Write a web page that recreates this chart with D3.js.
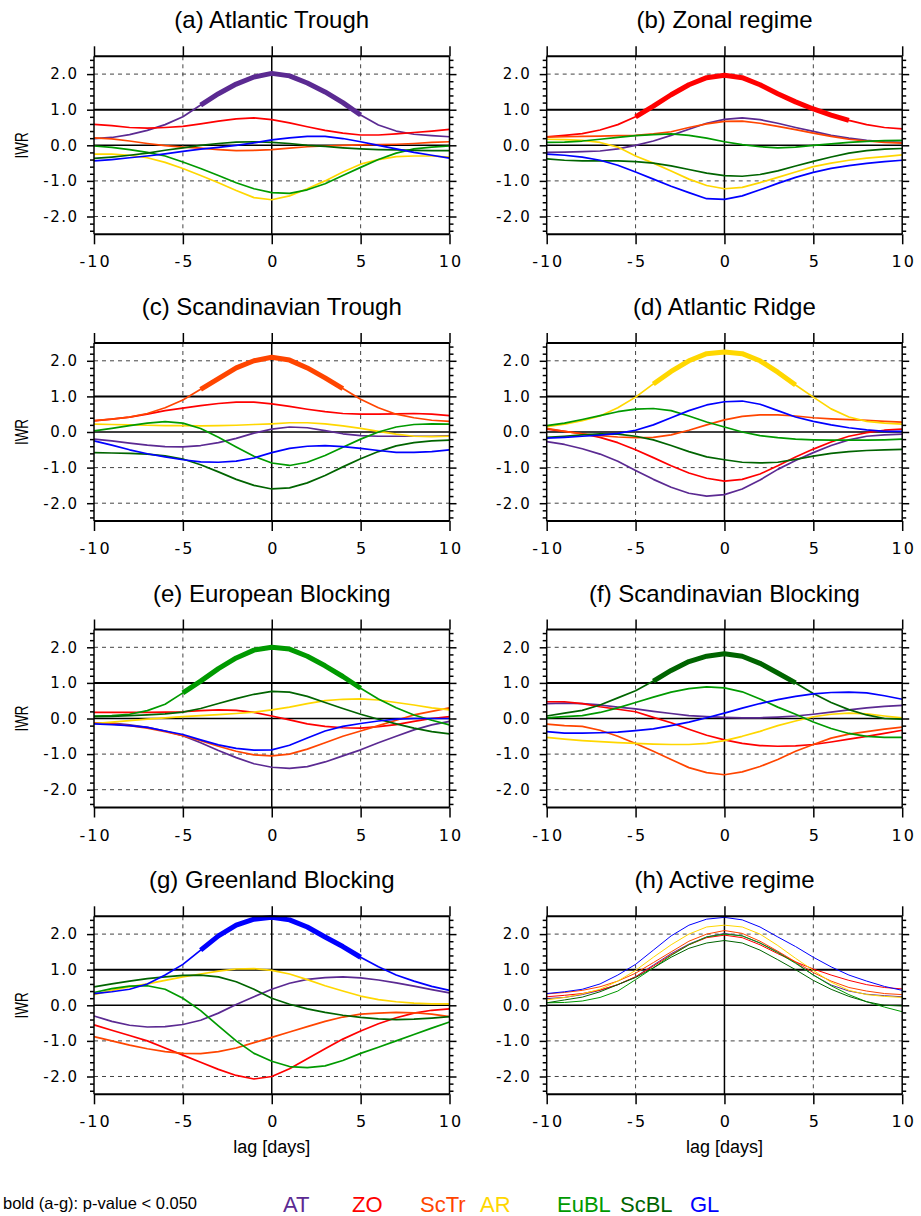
<!DOCTYPE html>
<html>
<head>
<meta charset="utf-8">
<script src="https://cdn.jsdelivr.net/npm/d3@7"></script>
<style>
  body { margin: 0; background: #fff; }
  text { font-family: "Liberation Sans", Arial, Helvetica, sans-serif; fill: #000; }
</style>
</head>
<body>
<div id="chart"></div>
<script>
// lag axis (days) and regimes
const days = d3.range(-10, 11);
const regimes = ["AT", "ZO", "ScTr", "AR", "EuBL", "ScBL", "GL"];
const regimeColors = ["#5b2a92", "#ff0000", "#ff4500", "#ffd700", "#009a00", "#006400", "#0000ff"];
const panelTitles = [
  "(a) Atlantic Trough", "(b) Zonal regime", "(c) Scandinavian Trough", "(d) Atlantic Ridge",
  "(e) European Blocking", "(f) Scandinavian Blocking", "(g) Greenland Blocking", "(h) Active regime"
];
const xTicks = [-10, -5, 0, 5, 10];
const yTicks = [-2, -1, 0, 1, 2];
// bold (significant) part of each regime's own curve, in days
const boldFrom = [-4, -5, -4, -4, -5, -4, -4];
const boldTo = [5, 7, 4, 4, 5, 4, 5];

// IWR composites, one row per regime (AT, ZO, ScTr, AR, EuBL, ScBL, GL), lag -10..10
const iwrAT = [
  [0.19,0.22,0.3,0.42,0.58,0.8,1.13,1.45,1.72,1.92,2.02,1.95,1.75,1.5,1.2,0.85,0.57,0.4,0.31,0.27,0.24],
  [0.59,0.55,0.5,0.48,0.5,0.53,0.6,0.68,0.74,0.77,0.72,0.63,0.52,0.42,0.34,0.29,0.29,0.32,0.36,0.4,0.45],
  [0.21,0.18,0.12,0.05,-0.01,-0.05,-0.08,-0.12,-0.15,-0.14,-0.12,-0.08,-0.04,-0.02,0.0,0.01,0.02,0.03,0.05,0.08,0.1],
  [-0.25,-0.25,-0.28,-0.35,-0.48,-0.65,-0.85,-1.05,-1.27,-1.47,-1.53,-1.42,-1.22,-1.0,-0.75,-0.53,-0.4,-0.32,-0.3,-0.3,-0.33],
  [-0.02,-0.06,-0.12,-0.2,-0.3,-0.47,-0.65,-0.85,-1.05,-1.22,-1.33,-1.35,-1.25,-1.08,-0.85,-0.62,-0.4,-0.22,-0.1,-0.05,-0.02],
  [-0.37,-0.33,-0.28,-0.22,-0.14,-0.07,0.0,0.05,0.09,0.1,0.08,0.05,0.0,-0.03,-0.07,-0.1,-0.12,-0.13,-0.14,-0.15,-0.15],
  [-0.44,-0.4,-0.35,-0.3,-0.24,-0.17,-0.11,-0.06,0.0,0.07,0.15,0.21,0.25,0.25,0.19,0.1,0.0,-0.1,-0.2,-0.28,-0.36]
];
const iwrZO = [
  [-0.2,-0.19,-0.18,-0.16,-0.1,0.0,0.12,0.28,0.45,0.62,0.73,0.77,0.72,0.62,0.5,0.39,0.28,0.2,0.14,0.1,0.08],
  [0.24,0.28,0.33,0.43,0.58,0.8,1.1,1.42,1.7,1.9,1.97,1.9,1.7,1.45,1.22,1.02,0.85,0.7,0.58,0.5,0.46],
  [0.23,0.24,0.25,0.26,0.27,0.28,0.32,0.38,0.5,0.6,0.67,0.68,0.62,0.53,0.44,0.34,0.25,0.17,0.12,0.08,0.06],
  [0.17,0.16,0.14,0.08,-0.05,-0.3,-0.5,-0.72,-0.95,-1.13,-1.22,-1.18,-1.05,-0.9,-0.75,-0.6,-0.5,-0.42,-0.36,-0.32,-0.27],
  [0.08,0.09,0.12,0.17,0.22,0.27,0.3,0.32,0.28,0.2,0.1,0.02,-0.04,-0.07,-0.05,0.0,0.04,0.08,0.11,0.13,0.14],
  [-0.38,-0.42,-0.44,-0.44,-0.44,-0.46,-0.5,-0.58,-0.68,-0.78,-0.85,-0.87,-0.82,-0.72,-0.58,-0.45,-0.33,-0.22,-0.15,-0.11,-0.09],
  [-0.25,-0.28,-0.33,-0.42,-0.56,-0.75,-0.95,-1.15,-1.33,-1.5,-1.52,-1.42,-1.25,-1.07,-0.9,-0.76,-0.65,-0.57,-0.51,-0.46,-0.42]
];
const iwrScTr = [
  [-0.2,-0.25,-0.31,-0.37,-0.41,-0.42,-0.38,-0.3,-0.18,-0.03,0.08,0.14,0.12,0.04,-0.05,-0.1,-0.12,-0.12,-0.12,-0.12,-0.11],
  [0.31,0.36,0.42,0.5,0.6,0.67,0.74,0.8,0.84,0.84,0.79,0.72,0.64,0.57,0.52,0.5,0.5,0.51,0.52,0.5,0.46],
  [0.32,0.36,0.42,0.52,0.68,0.9,1.2,1.5,1.8,2.0,2.1,2.02,1.8,1.52,1.22,0.92,0.68,0.5,0.4,0.33,0.3],
  [0.22,0.21,0.2,0.19,0.18,0.18,0.17,0.18,0.19,0.21,0.23,0.26,0.26,0.23,0.17,0.1,0.02,-0.06,-0.12,-0.13,-0.12],
  [0.03,0.1,0.18,0.25,0.29,0.25,0.1,-0.15,-0.42,-0.68,-0.87,-0.94,-0.85,-0.66,-0.43,-0.2,0.0,0.14,0.21,0.23,0.22],
  [-0.58,-0.59,-0.6,-0.62,-0.67,-0.76,-0.92,-1.12,-1.33,-1.5,-1.6,-1.57,-1.43,-1.22,-0.98,-0.75,-0.55,-0.39,-0.3,-0.25,-0.23],
  [-0.25,-0.37,-0.5,-0.61,-0.7,-0.78,-0.84,-0.85,-0.82,-0.73,-0.58,-0.46,-0.4,-0.38,-0.41,-0.46,-0.52,-0.57,-0.57,-0.55,-0.5]
];
const iwrAR = [
  [-0.27,-0.35,-0.47,-0.62,-0.82,-1.08,-1.33,-1.55,-1.72,-1.8,-1.76,-1.6,-1.35,-1.05,-0.8,-0.58,-0.38,-0.22,-0.12,-0.08,-0.06],
  [0.08,0.02,-0.05,-0.15,-0.3,-0.5,-0.72,-0.95,-1.15,-1.3,-1.38,-1.33,-1.18,-0.95,-0.7,-0.48,-0.28,-0.12,-0.02,0.05,0.08],
  [0.1,0.02,-0.05,-0.1,-0.14,-0.16,-0.15,-0.08,0.05,0.2,0.34,0.44,0.48,0.48,0.45,0.4,0.37,0.35,0.33,0.3,0.28],
  [0.15,0.22,0.32,0.45,0.68,0.98,1.35,1.7,2.0,2.2,2.25,2.2,2.0,1.68,1.32,0.98,0.65,0.42,0.3,0.25,0.22],
  [0.18,0.25,0.35,0.46,0.57,0.64,0.66,0.6,0.45,0.28,0.14,0.0,-0.1,-0.16,-0.2,-0.22,-0.23,-0.23,-0.23,-0.22,-0.2],
  [-0.15,-0.12,-0.08,-0.05,-0.06,-0.12,-0.22,-0.38,-0.55,-0.7,-0.78,-0.85,-0.87,-0.85,-0.77,-0.68,-0.6,-0.55,-0.52,-0.5,-0.49],
  [-0.17,-0.15,-0.12,-0.09,-0.04,0.05,0.2,0.4,0.6,0.76,0.85,0.87,0.78,0.6,0.42,0.3,0.2,0.12,0.06,0.02,0.02]
];
const iwrEuBL = [
  [-0.12,-0.13,-0.18,-0.25,-0.35,-0.48,-0.68,-0.9,-1.1,-1.27,-1.37,-1.4,-1.35,-1.22,-1.05,-0.88,-0.68,-0.5,-0.32,-0.18,-0.08],
  [0.17,0.17,0.17,0.17,0.18,0.19,0.22,0.24,0.23,0.17,0.07,-0.04,-0.15,-0.22,-0.26,-0.27,-0.23,-0.17,-0.08,0.0,0.05],
  [-0.12,-0.15,-0.2,-0.27,-0.37,-0.48,-0.62,-0.78,-0.92,-1.02,-1.05,-1.0,-0.86,-0.68,-0.5,-0.35,-0.2,-0.05,0.1,0.2,0.3],
  [-0.14,-0.1,-0.06,-0.02,0.02,0.05,0.08,0.11,0.14,0.18,0.24,0.32,0.42,0.5,0.54,0.55,0.52,0.45,0.38,0.3,0.24],
  [0.07,0.08,0.12,0.22,0.4,0.72,1.05,1.4,1.7,1.92,2.0,1.95,1.75,1.48,1.18,0.85,0.55,0.3,0.1,-0.05,-0.18],
  [0.05,0.06,0.08,0.1,0.13,0.18,0.28,0.42,0.56,0.68,0.76,0.74,0.62,0.45,0.28,0.12,-0.02,-0.15,-0.27,-0.37,-0.43],
  [-0.15,-0.17,-0.2,-0.25,-0.35,-0.45,-0.6,-0.74,-0.84,-0.89,-0.88,-0.75,-0.55,-0.35,-0.22,-0.14,-0.07,-0.02,0.0,0.0,0.0]
];
const iwrScBL = [
  [0.42,0.43,0.42,0.38,0.32,0.27,0.2,0.14,0.08,0.05,0.03,0.02,0.02,0.04,0.07,0.12,0.18,0.24,0.3,0.34,0.37],
  [0.47,0.47,0.42,0.33,0.26,0.19,0.03,-0.12,-0.3,-0.47,-0.6,-0.7,-0.76,-0.78,-0.77,-0.73,-0.66,-0.58,-0.5,-0.42,-0.33],
  [-0.16,-0.2,-0.22,-0.33,-0.5,-0.7,-0.92,-1.15,-1.38,-1.52,-1.58,-1.5,-1.35,-1.15,-0.92,-0.73,-0.55,-0.44,-0.37,-0.3,-0.24],
  [-0.53,-0.58,-0.62,-0.65,-0.68,-0.7,-0.72,-0.73,-0.73,-0.7,-0.62,-0.5,-0.36,-0.2,-0.07,0.05,0.12,0.15,0.13,0.07,0.02],
  [0.02,0.05,0.08,0.17,0.3,0.45,0.6,0.74,0.84,0.89,0.86,0.75,0.55,0.32,0.12,-0.1,-0.28,-0.42,-0.5,-0.53,-0.53],
  [0.07,0.15,0.23,0.38,0.58,0.78,1.05,1.35,1.6,1.75,1.82,1.75,1.55,1.28,1.0,0.7,0.45,0.25,0.1,0.0,-0.02],
  [-0.37,-0.41,-0.41,-0.4,-0.38,-0.34,-0.29,-0.2,-0.1,0.02,0.15,0.29,0.42,0.53,0.62,0.69,0.73,0.74,0.72,0.64,0.54]
];
const iwrGL = [
  [-0.3,-0.45,-0.56,-0.61,-0.6,-0.54,-0.42,-0.22,0.02,0.24,0.45,0.62,0.73,0.78,0.8,0.77,0.71,0.63,0.54,0.44,0.35],
  [-0.55,-0.7,-0.85,-1.0,-1.2,-1.4,-1.6,-1.8,-1.97,-2.07,-2.0,-1.78,-1.5,-1.22,-0.95,-0.72,-0.52,-0.35,-0.22,-0.14,-0.1],
  [-0.88,-1.0,-1.12,-1.22,-1.3,-1.35,-1.36,-1.3,-1.2,-1.05,-0.9,-0.75,-0.6,-0.45,-0.33,-0.25,-0.22,-0.2,-0.21,-0.25,-0.32],
  [0.3,0.42,0.52,0.6,0.7,0.8,0.88,0.96,1.02,1.03,0.98,0.88,0.72,0.55,0.4,0.26,0.16,0.1,0.06,0.04,0.04],
  [0.36,0.47,0.54,0.55,0.45,0.2,-0.15,-0.58,-1.0,-1.35,-1.57,-1.72,-1.75,-1.7,-1.55,-1.35,-1.18,-1.0,-0.82,-0.64,-0.47],
  [0.52,0.6,0.68,0.75,0.8,0.84,0.85,0.8,0.66,0.45,0.2,0.03,-0.1,-0.2,-0.28,-0.34,-0.38,-0.4,-0.39,-0.36,-0.32],
  [0.33,0.38,0.45,0.6,0.85,1.15,1.55,1.95,2.25,2.42,2.47,2.4,2.2,1.92,1.65,1.35,1.08,0.85,0.68,0.53,0.42]
];

const panelData = [iwrAT, iwrZO, iwrScTr, iwrAR, iwrEuBL, iwrScBL, iwrGL];
// (h) active regime: each regime's own composite
const iwrActive = panelData.map((p, k) => p[k]);

const width = 921, height = 1216;
const colX = [94, 546.7];
const rowY = [56.3, 343, 629.5, 916.3];
const plotW = 355.5, plotH = 178;
const tickFont = "'DejaVu Sans', 'Liberation Sans', sans-serif";

const svg = d3.select("#chart").append("svg")
  .attr("width", width).attr("height", height)
  .attr("viewBox", "0 0 " + width + " " + height);

const x = d3.scaleLinear().domain([-10, 10]).range([0, plotW]);
const y = d3.scaleLinear().domain([-2.5, 2.5]).range([plotH, 0]);
const minorY = d3.range(-24, 25, 2).map(d => d / 10).filter(d => Math.abs(d % 1) > 0.01);

const line = d3.line()
  .x(d => x(d.day))
  .y(d => y(d.v));

function toPoints(values) {
  return values.map((v, i) => ({ day: days[i], v: v }));
}

function drawPanel(i) {
  const col = i % 2, row = Math.floor(i / 2);
  const g = svg.append("g")
    .attr("class", "panel")
    .attr("transform", "translate(" + colX[col] + "," + rowY[row] + ")");

  // title
  g.append("text")
    .attr("x", plotW / 2).attr("y", -28)
    .attr("text-anchor", "middle")
    .style("font-size", "24px")
    .text(panelTitles[i]);

  // reference lines
  const hLines = [
    { v: -2, dash: true }, { v: -1, dash: true }, { v: 2, dash: true },
    { v: 0, dash: false, w: 1.5 }, { v: 1, dash: false, w: 2 }
  ];
  g.selectAll(".hline").data(hLines).enter().append("line")
    .attr("x1", 0).attr("x2", plotW)
    .attr("y1", d => y(d.v)).attr("y2", d => y(d.v))
    .attr("stroke", d => d.dash ? "#444" : "#000")
    .attr("stroke-width", d => d.dash ? 1 : d.w)
    .attr("stroke-dasharray", d => d.dash ? "4,4" : null);
  const vLines = [{ v: -5, dash: true }, { v: 5, dash: true }, { v: 0, dash: false }];
  g.selectAll(".vline").data(vLines).enter().append("line")
    .attr("y1", 0).attr("y2", plotH)
    .attr("x1", d => x(d.v)).attr("x2", d => x(d.v))
    .attr("stroke", d => d.dash ? "#444" : "#000")
    .attr("stroke-width", d => d.dash ? 1 : 1.5)
    .attr("stroke-dasharray", d => d.dash ? "4,4" : null);

  // composite curves
  const series = i < 7 ? panelData[i] : iwrActive;
  g.selectAll(".series").data(series).enter().append("path")
    .attr("class", "series")
    .attr("d", d => line(toPoints(d)))
    .attr("fill", "none")
    .attr("stroke", (d, k) => regimeColors[k])
    .attr("stroke-width", i < 7 ? 1.7 : 1)
    .attr("stroke-linejoin", "round");

  if (i < 7) {
    const own = toPoints(series[i]).filter(p => p.day >= boldFrom[i] && p.day <= boldTo[i]);
    g.append("path")
      .attr("d", line(own))
      .attr("fill", "none")
      .attr("stroke", regimeColors[i])
      .attr("stroke-width", 5)
      .attr("stroke-linejoin", "round");
  }

  // frame
  g.append("line").attr("x1", 0).attr("x2", plotW).attr("y1", 0).attr("y2", 0)
    .attr("stroke", "#000").attr("stroke-width", 2);
  g.append("line").attr("x1", 0).attr("x2", plotW).attr("y1", plotH).attr("y2", plotH)
    .attr("stroke", "#000").attr("stroke-width", 2);
  g.append("line").attr("x1", 0).attr("x2", 0).attr("y1", 0).attr("y2", plotH)
    .attr("stroke", "#000").attr("stroke-width", 1.5);
  g.append("line").attr("x1", plotW).attr("x2", plotW).attr("y1", 0).attr("y2", plotH)
    .attr("stroke", "#000").attr("stroke-width", 1.5);

  // y axes (labels left, ticks both sides)
  const yAxis = g.append("g").attr("class", "y-axis")
    .call(d3.axisLeft(y).tickValues(yTicks).tickSize(7).tickSizeOuter(0)
      .tickFormat(d => d.toFixed(1)));
  yAxis.select(".domain").remove();
  yAxis.selectAll("text")
    .attr("x", -15.5)
    .style("font-size", "15px")
    .style("letter-spacing", "1.5px")
    .style("font-family", tickFont);
  g.append("g").call(d3.axisLeft(y).tickValues(minorY).tickSize(4).tickSizeOuter(0).tickFormat(""))
    .select(".domain").remove();
  const yRight = g.append("g").attr("transform", "translate(" + plotW + ",0)");
  yRight.append("g").call(d3.axisRight(y).tickValues(yTicks).tickSize(7).tickSizeOuter(0).tickFormat(""))
    .select(".domain").remove();
  yRight.append("g").call(d3.axisRight(y).tickValues(minorY).tickSize(4).tickSizeOuter(0).tickFormat(""))
    .select(".domain").remove();

  // x axes
  g.append("g").call(d3.axisTop(x).tickValues(xTicks).tickSize(10).tickSizeOuter(0).tickFormat(""))
    .select(".domain").remove();
  const xAxis = g.append("g").attr("transform", "translate(0," + plotH + ")")
    .call(d3.axisBottom(x).tickValues(xTicks).tickSize(10).tickSizeOuter(0).tickFormat(d => String(d)));
  xAxis.select(".domain").remove();
  xAxis.selectAll("text")
    .attr("y", 33).attr("dy", null).attr("dx", 1)
    .style("font-size", "16px")
    .style("letter-spacing", "2px")
    .style("font-family", tickFont);
  svg.selectAll(".tick line").attr("stroke", "#000").attr("stroke-width", 1.5);

  if (col === 0) {
    g.append("text")
      .attr("transform", "translate(-65.7," + (plotH / 2) + ") rotate(-90) scale(1,1.3)")
      .attr("text-anchor", "middle")
      .style("font-size", "13.5px")
      .text("IWR");
  }
  if (row === 3) {
    g.append("text")
      .attr("x", plotW / 2).attr("y", plotH + 59)
      .attr("text-anchor", "middle")
      .style("font-size", "18px")
      .text("lag [days]");
  }
}

d3.range(8).forEach(drawPanel);

// footer: significance note and colour legend
svg.append("text")
  .attr("x", 3).attr("y", 1209)
  .style("font-size", "16.5px")
  .text("bold (a-g): p-value < 0.050");

const legendX = [283, 352, 420, 480, 557, 620, 690];
svg.selectAll(".legend").data(regimes).enter().append("text")
  .attr("class", "legend")
  .attr("x", (d, k) => legendX[k]).attr("y", 1212)
  .style("font-size", "22px")
  .style("fill", (d, k) => regimeColors[k])
  .text(d => d);
</script>
</body>
</html>
